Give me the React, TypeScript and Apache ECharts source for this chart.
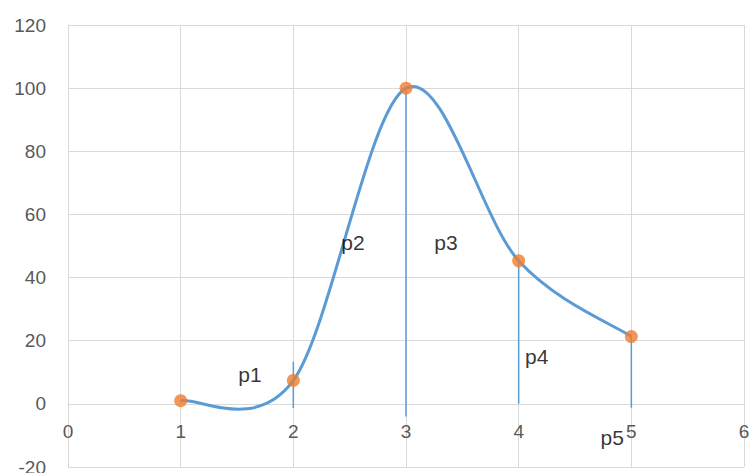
import React, { useEffect, useRef } from "react";
import * as echarts from "echarts";

const xValues = [1, 2, 3, 4, 5];
const yValues = [1, 7.4, 100, 45.3, 21.3];
const pointNames = ["p1", "p2", "p3", "p4", "p5"];
// annotation anchors (data coordinates) for the p-labels
const labelX = [1.615, 2.53, 3.355, 4.16, 4.83];
const labelY = [9.2, 51, 51, 15, -10.5];
// drop lines: [x, yTop, yBottom]
const dropX = [2, 3, 4, 5];
const dropTop = [13.3, 100, 45.3, 21.3];
const dropBottom = [-1.3, -4, 0, -1.2];
const yMin = -20;
const yMax = 120;
const yStep = 20;
const xMin = 0;
const xMax = 6;

export default function App() {
  const ref = useRef<HTMLDivElement>(null);
  useEffect(() => {
    if (!ref.current) return;
    const chart = echarts.init(ref.current, undefined, { renderer: "svg" });
    const blue = "#5B9BD5";
    const n = xValues.length;
    const dropSeries = dropX.map((x, i) => ({
      type: "line",
      data: [
        [x, dropTop[i]],
        [x, dropBottom[i]],
      ],
      symbol: "none",
      lineStyle: { color: blue, width: 1.5 },
      z: 2,
      silent: true,
    }));
    chart.setOption({
      animation: false,
      grid: { left: 68, right: 5, top: 25, bottom: 6, containLabel: false, outerBoundsMode: "none" },
      xAxis: {
        type: "value",
        min: xMin,
        max: xMax,
        interval: 1,
        position: "bottom",
        offset: 0,
        axisLine: { onZero: false, lineStyle: { color: "#d9d9d9", width: 1 } },
        axisTick: { show: false },
        axisLabel: {
          color: "#595959",
          fontSize: 19,
          fontFamily: "Liberation Sans",
          margin: 18,
          showMaxLabel: true,
          showMinLabel: true,
          hideOverlap: false,
        },
        splitLine: { show: true, lineStyle: { color: "#d9d9d9", width: 1 } },
      },
      yAxis: {
        type: "value",
        min: yMin,
        max: yMax,
        interval: yStep,
        axisLine: { show: true, onZero: false, lineStyle: { color: "#d9d9d9", width: 1 } },
        axisTick: { show: false },
        axisLabel: {
          color: "#595959",
          fontSize: 19,
          fontFamily: "Liberation Sans",
          margin: 22,
          padding: [0, 0, 4, 0],
        },
        splitLine: { show: true, lineStyle: { color: "#d9d9d9", width: 1 } },
      },
      series: [
        ...dropSeries,
        {
          type: "custom",
          data: xValues.map((x, i) => [x, yValues[i]]),
          z: 3,
          silent: true,
          renderItem: (params: any, api: any) => {
            const i = params.dataIndex;
            if (i >= n - 1) return null;
            const P = (k: number) => {
              const j = Math.max(0, Math.min(n - 1, k));
              return api.coord([xValues[j], yValues[j]]);
            };
            const p0 = P(i - 1);
            const p1 = P(i);
            const p2 = P(i + 1);
            const p3 = P(i + 2);
            return {
              type: "bezierCurve",
              shape: {
                x1: p1[0],
                y1: p1[1],
                x2: p2[0],
                y2: p2[1],
                cpx1: p1[0] + (p2[0] - p0[0]) / 6,
                cpy1: p1[1] + (p2[1] - p0[1]) / 6,
                cpx2: p2[0] - (p3[0] - p1[0]) / 6,
                cpy2: p2[1] - (p3[1] - p1[1]) / 6,
              },
              style: { stroke: blue, lineWidth: 3, fill: "none" },
            };
          },
        },
        {
          type: "scatter",
          data: xValues.map((x, i) => [x, yValues[i]]),
          symbol: "circle",
          symbolSize: 13,
          itemStyle: { color: "#ED7D31" },
          z: 4,
        },
        {
          type: "scatter",
          data: labelX.map((x, i) => ({ value: [x, labelY[i]], name: pointNames[i] })),
          symbolSize: 0,
          label: {
            show: true,
            position: "inside",
            formatter: (p: any) => p.name,
            color: "#000",
            fontSize: 21,
            fontFamily: "Liberation Sans",
          },
          z: 5,
          silent: true,
        },
      ],
    });
    // move the x axis (line and labels) up to y = 0, measured with the library's own scale
    const yZero = chart.convertToPixel({ yAxisIndex: 0 }, 0) as number;
    const yBottom = chart.convertToPixel({ yAxisIndex: 0 }, yMin) as number;
    chart.setOption({ xAxis: { offset: -(yBottom - yZero) } });
    return () => chart.dispose();
  }, []);
  return <div ref={ref} style={{ width: 749, height: 473, position: "absolute", left: 0, top: 0 }} />;
}
